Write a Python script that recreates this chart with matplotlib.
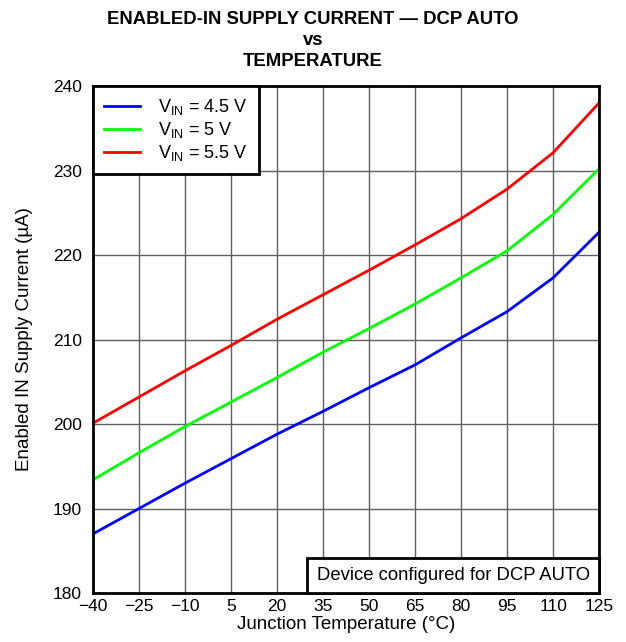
import numpy as np
import matplotlib
matplotlib.use("Agg")
import matplotlib.pyplot as plt
from matplotlib.offsetbox import AnchoredText

plt.rcParams['font.family'] = ['Liberation Sans', 'DejaVu Sans']

# Data
temps = [-40, -25, -10, 5, 20, 35, 50, 65, 80, 95, 110, 125]
vin_45 = [187.0, 190.0, 193.0, 195.9, 198.8, 201.5, 204.3, 207.0, 210.2, 213.3, 217.3, 222.7]
vin_50 = [193.4, 196.6, 199.7, 202.6, 205.5, 208.5, 211.3, 214.2, 217.3, 220.5, 224.8, 230.2]
vin_55 = [200.1, 203.2, 206.3, 209.3, 212.4, 215.3, 218.2, 221.2, 224.3, 227.8, 232.1, 238.0]
xticks = [-40, -25, -10, 5, 20, 35, 50, 65, 80, 95, 110, 125]
xlabels = ['\u221240', '\u221225', '\u221210', '5', '20', '35', '50', '65', '80', '95', '110', '125']

fig = plt.figure(figsize=(6.26, 6.42), dpi=100)
ax = fig.add_axes([0.1486, 0.0763, 0.8084, 0.7897])

ax.plot(temps, vin_45, color='#0000ff', lw=2, label=r'V$_{\mathregular{IN}}$ = 4.5 V')
ax.plot(temps, vin_50, color='#00ff00', lw=2, label=r'V$_{\mathregular{IN}}$ = 5 V')
ax.plot(temps, vin_55, color='#ff0000', lw=2, label=r'V$_{\mathregular{IN}}$ = 5.5 V')

ax.set_xlim(-40, 125)
ax.set_ylim(180, 240)
ax.set_xticks(xticks)
ax.set_xticklabels(xlabels)
ax.set_yticks(np.arange(180, 241, 10))
ax.grid(True, color='#606060', lw=1)
ax.tick_params(labelsize=12.5, length=0)
ax.tick_params(axis='y', pad=8)
ax.tick_params(axis='x', pad=4)
for s in ax.spines.values():
    s.set_linewidth(2)

ax.set_xlabel('Junction Temperature (°C)', fontsize=13.5, labelpad=2)
ax.set_ylabel('Enabled IN Supply Current (µA)', fontsize=13.5, labelpad=14)
fig.suptitle('ENABLED-IN SUPPLY CURRENT \u2014 DCP AUTO\nvs\nTEMPERATURE',
             fontsize=13.3, fontweight='bold', y=0.983, linespacing=1.32)

leg = ax.legend(loc='upper left', bbox_to_anchor=(0, 1), fontsize=13, fancybox=False,
                framealpha=1, edgecolor='black', borderaxespad=0, handlelength=2.0,
                handletextpad=1.0, labelspacing=0.18, borderpad=0.6)
leg.get_frame().set_linewidth(2)

at = AnchoredText('Device configured for DCP AUTO', loc='lower right', borderpad=0,
                  pad=0.5, prop=dict(size=13.3))
at.patch.set_boxstyle('square,pad=0')
at.patch.set_edgecolor('black')
at.patch.set_linewidth(2)
ax.add_artist(at)

fig.savefig('out.png', dpi=100)
